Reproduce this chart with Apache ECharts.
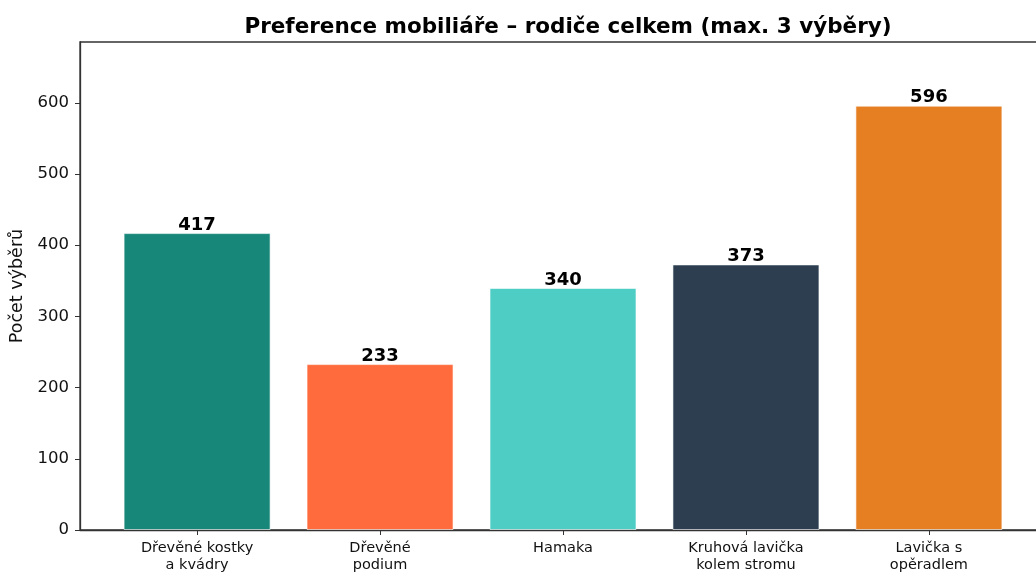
<!DOCTYPE html>
<html>
<head>
<meta charset="utf-8">
<script src="https://cdn.jsdelivr.net/npm/echarts@6/dist/echarts.min.js"></script>
<style>html,body{margin:0;padding:0;background:#fff}#c{width:1036px;height:575px}</style>
</head>
<body>
<div id="c"></div>
<script>
const categories = ["Dřevěné kostky\na kvádry", "Dřevěné\npodium", "Hamaka", "Kruhová lavička\nkolem stromu", "Lavička s\nopěradlem"];
const values = [417, 233, 340, 373, 596];
const colors = ["#17877A", "#FF6B3D", "#4ECDC4", "#2C3E50", "#E67E22"];
const yTicks = [0, 100, 200, 300, 400, 500, 600];

const chart = echarts.init(document.getElementById('c'), null, {renderer: 'canvas'});
const font = 'DejaVu Sans';
chart.setOption({
  animation: false,
  title: {
    text: 'Preference mobiliáře – rodiče celkem (max. 3 výběry)',
    left: 563, top: 11, textAlign: 'center',
    textStyle: {fontFamily: font, fontSize: 21.5, fontWeight: 'bold', color: '#000'}
  },
  grid: {left: 80, top: 42, width: 966, height: 488, outerBoundsMode: 'none', containLabel: false,
         show: true, borderColor: '#333', borderWidth: 1.3, backgroundColor: 'transparent'},
  xAxis: {
    type: 'value', min: -0.64, max: 4.64,
    splitLine: {show: false},
    axisLine: {show: true, onZero: false, lineStyle: {color: '#333', width: 1.3}},
    axisTick: {show: true, length: 5, lineStyle: {color: '#333'}, customValues: [0, 1, 2, 3, 4]},
    axisLabel: {
      customValues: [0, 1, 2, 3, 4],
      formatter: v => categories[Math.round(v)] || '',
      fontFamily: font, fontSize: 14.5, color: '#111', margin: 10, lineHeight: 17
    }
  },
  yAxis: {
    type: 'value', min: 0, max: 685.4,
    name: 'Počet výběrů', nameLocation: 'middle', nameGap: 54, nameRotate: 90,
    nameTextStyle: {fontFamily: font, fontSize: 17.5, color: '#111'},
    splitLine: {show: false},
    axisLine: {show: true, onZero: false, lineStyle: {color: '#333', width: 1.3}},
    axisTick: {show: true, length: 5, lineStyle: {color: '#333'}, customValues: yTicks},
    axisLabel: {customValues: yTicks, fontFamily: font, fontSize: 16.5, color: '#111', margin: 11}
  },
  series: [{
    type: 'bar',
    barWidth: 147,
    data: values.map((v, i) => ({value: [i, v], itemStyle: {color: colors[i], borderColor: 'rgba(255,255,255,0.6)', borderWidth: 1}})),
    label: {
      show: true, position: 'top', distance: -1,
      formatter: p => p.value[1],
      fontFamily: font, fontSize: 18, fontWeight: 'bold', color: '#000'
    }
  }]
});
</script>
</body>
</html>
